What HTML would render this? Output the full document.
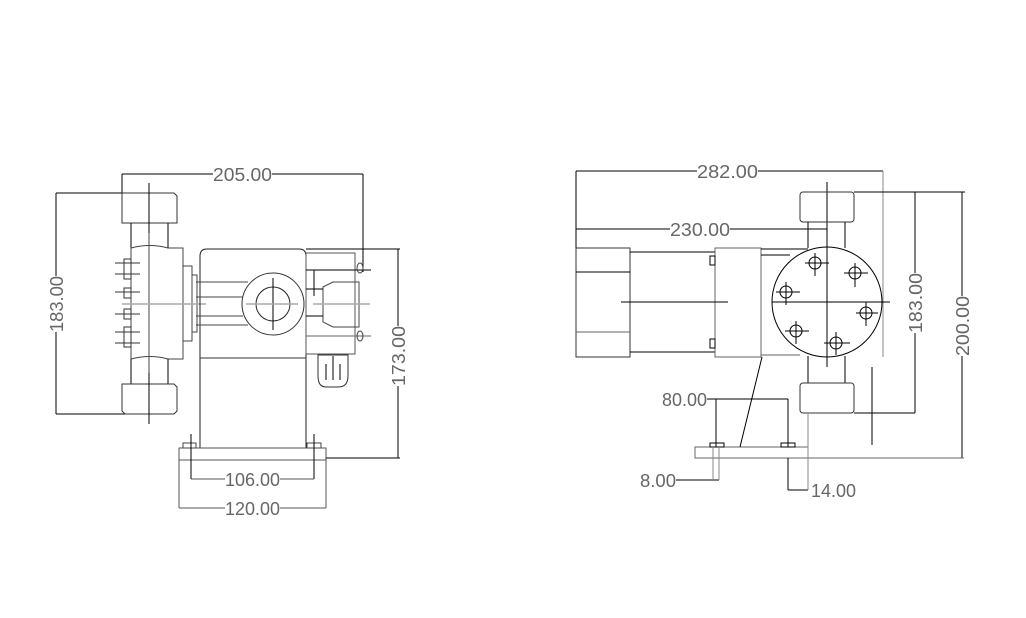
<!DOCTYPE html>
<html><head><meta charset="utf-8"><style>
html,body{margin:0;padding:0;background:#fff;}
svg{display:block}
text{font-family:"Liberation Sans",sans-serif;font-size:18px;fill:#666;}
</style></head><body>
<svg width="1026" height="618" viewBox="0 0 1026 618" xmlns="http://www.w3.org/2000/svg">
<g fill="none" stroke="#000" stroke-width="1">
<!-- LEFT VIEW -->
<!-- 205 dim -->
<line x1="122" y1="174" x2="213" y2="174"/><line x1="272" y1="174" x2="363" y2="174"/>
<line x1="122" y1="174" x2="122" y2="193"/>
<line x1="363" y1="174" x2="363" y2="272"/>
<!-- 183 dim -->
<line x1="56" y1="193" x2="56" y2="276"/><line x1="56" y1="332" x2="56" y2="414"/>
<line x1="56" y1="193" x2="122" y2="193"/><line x1="56" y1="414" x2="150" y2="414"/>
<!-- top fitting -->
<path d="M122 193 H174 L177 196 V223 H122 Z" stroke="#333"/>
<line x1="131" y1="223" x2="131" y2="248"/><line x1="168" y1="223" x2="168" y2="248"/>
<path d="M131 248 Q150 243 168 248 H183 V359 H168 Q150 354 131 359 Z" stroke="#444"/>
<line x1="131" y1="359" x2="131" y2="384"/><line x1="168" y1="359" x2="168" y2="384"/>
<path d="M122 384 H174 L177 387 V411 L174 414 H125 L122 411 Z" stroke="#333"/>
<line x1="149" y1="183" x2="149" y2="233"/><line x1="149" y1="373" x2="149" y2="424"/>
<line x1="149" y1="233" x2="149" y2="373" stroke="#444"/>
<rect x="183" y="266" width="9" height="75" stroke="#444"/>
<rect x="192" y="275" width="5" height="57" stroke="#444"/>
<line x1="122" y1="304" x2="206" y2="304" stroke="#aaa" stroke-width="1.5"/>
<!-- bolts -->
<g stroke="#333">
<rect x="124" y="259" width="7" height="20"/><line x1="115" y1="263" x2="140" y2="263"/><line x1="115" y1="274" x2="140" y2="274"/>
<rect x="124" y="288" width="7" height="10"/><line x1="115" y1="292" x2="140" y2="292"/>
<rect x="124" y="309" width="7" height="10"/><line x1="115" y1="314" x2="140" y2="314"/>
<rect x="124" y="327" width="7" height="20"/><line x1="115" y1="332" x2="140" y2="332"/><line x1="115" y1="343" x2="140" y2="343"/>
</g>
<!-- main body -->
<path d="M200 448 V256 Q200 249 207 249 H299 Q306 249 306 256 V448" stroke="#222"/>
<line x1="200" y1="358" x2="306" y2="358" stroke="#333"/>
<path d="M196 282 H248 M196 297 H243 M196 316 H243 M196 325 H248" stroke="#444"/>
<circle cx="273" cy="304" r="31" stroke="#333"/>
<circle cx="273" cy="304" r="17" stroke="#222"/>
<line x1="273" y1="278" x2="273" y2="330"/>
<line x1="246" y1="304" x2="298" y2="304" stroke="#aaa" stroke-width="1.5"/>
<!-- right box -->
<rect x="306" y="253" width="49" height="101" stroke="#555"/>
<path d="M323 287 L333 282 H359 V327 H333 L323 322 Z" stroke="#444"/>
<line x1="306" y1="270" x2="371" y2="270"/>
<line x1="314" y1="270" x2="314" y2="296"/><line x1="306" y1="289" x2="323" y2="289"/><line x1="306" y1="316" x2="323" y2="316"/>
<line x1="306" y1="336" x2="371" y2="336" stroke="#666"/>
<ellipse cx="360" cy="268" rx="3" ry="5" stroke="#444"/><ellipse cx="360" cy="336" rx="3" ry="5" stroke="#444"/>
<line x1="313" y1="304" x2="370" y2="304" stroke="#aaa" stroke-width="1.5"/>
<path d="M318 355 H348 V376 Q348 387 338 387 H326 Q318 387 318 376 Z" stroke="#333"/>
<line x1="326" y1="364" x2="326" y2="380"/><line x1="333" y1="356" x2="333" y2="380"/><line x1="340" y1="364" x2="340" y2="380"/>
<!-- base -->
<rect x="179" y="448" width="147" height="12" stroke="#555"/>
<rect x="183" y="443" width="13" height="5" stroke="#444"/><rect x="307" y="443" width="14" height="5" stroke="#444"/>
<line x1="191" y1="434" x2="191" y2="479"/><line x1="314" y1="434" x2="314" y2="479"/>
<line x1="191" y1="479" x2="225" y2="479" stroke="#555"/><line x1="280" y1="479" x2="314" y2="479" stroke="#555"/>
<line x1="179" y1="460" x2="179" y2="508" stroke="#555"/><line x1="326" y1="460" x2="326" y2="508" stroke="#555"/>
<line x1="179" y1="508" x2="225" y2="508" stroke="#555"/><line x1="280" y1="508" x2="326" y2="508" stroke="#555"/>
<!-- 173 dim -->
<line x1="306" y1="249" x2="400" y2="249"/><line x1="326" y1="458" x2="400" y2="458"/>
<line x1="398" y1="249" x2="398" y2="326"/><line x1="398" y1="386" x2="398" y2="458"/>

<!-- RIGHT VIEW -->
<line x1="576" y1="171" x2="697" y2="171"/><line x1="758" y1="171" x2="883" y2="171"/>
<line x1="576" y1="171" x2="576" y2="357"/><line x1="883" y1="171" x2="883" y2="357" stroke="#888"/>
<line x1="576" y1="229" x2="670" y2="229"/><line x1="730" y1="229" x2="827" y2="229"/>
<rect x="576" y="248" width="54" height="109" stroke="#333"/>
<line x1="576" y1="272" x2="630" y2="272"/><line x1="576" y1="332" x2="630" y2="332" stroke="#666"/>
<line x1="630" y1="252" x2="715" y2="252"/><line x1="630" y1="352" x2="715" y2="352"/>
<rect x="715" y="248" width="46" height="109" stroke="#666"/>
<rect x="710" y="256" width="5" height="9"/><rect x="710" y="339" width="5" height="9"/>
<line x1="761" y1="249" x2="808" y2="249"/><line x1="761" y1="255" x2="790" y2="255"/>
<line x1="761" y1="355" x2="800" y2="355" stroke="#666"/>
<line x1="621" y1="302" x2="728" y2="302"/><line x1="772" y1="302" x2="890" y2="302"/>
<circle cx="827" cy="302" r="55"/>
<line x1="827" y1="182" x2="827" y2="367"/>
<rect x="800" y="192" width="54" height="30" rx="3" stroke="#333"/>
<line x1="808" y1="222" x2="808" y2="248"/><line x1="845" y1="222" x2="845" y2="248"/>
<line x1="808" y1="356" x2="808" y2="383"/><line x1="845" y1="356" x2="845" y2="383"/>
<rect x="800" y="383" width="54" height="30" rx="3" stroke="#333"/>
<g>
<circle cx="815" cy="263" r="6"/><line x1="805" y1="263" x2="829" y2="263"/><line x1="815" y1="253" x2="815" y2="276"/>
<circle cx="855" cy="273" r="6"/><line x1="844" y1="273" x2="868" y2="273"/><line x1="855" y1="263" x2="855" y2="287"/>
<circle cx="786" cy="292" r="6"/><line x1="776" y1="292" x2="800" y2="292"/><line x1="786" y1="282" x2="786" y2="305"/>
<circle cx="866" cy="313" r="6"/><line x1="856" y1="313" x2="878" y2="313"/><line x1="866" y1="302" x2="866" y2="326"/>
<circle cx="796" cy="331" r="6"/><line x1="785" y1="331" x2="809" y2="331"/><line x1="796" y1="321" x2="796" y2="344"/>
<circle cx="836" cy="343" r="6"/><line x1="824" y1="343" x2="850" y2="343"/><line x1="836" y1="332" x2="836" y2="355"/>
</g>
<!-- 183 & 200 -->
<line x1="854" y1="192" x2="965" y2="192"/>
<line x1="915" y1="192" x2="915" y2="273"/><line x1="915" y1="333" x2="915" y2="413"/>
<line x1="854" y1="413" x2="915" y2="413"/>
<line x1="962" y1="192" x2="962" y2="296"/><line x1="962" y1="356" x2="962" y2="458"/>
<line x1="808" y1="458" x2="964" y2="458" stroke="#666"/>
<line x1="872" y1="367" x2="872" y2="445"/>
<!-- base -->
<rect x="695" y="447" width="113" height="11" stroke="#666"/>
<rect x="710" y="443" width="14" height="4"/><rect x="781" y="443" width="14" height="4"/>
<line x1="762" y1="357" x2="740" y2="447"/>
<line x1="707" y1="399" x2="788" y2="399"/>
<line x1="716" y1="399" x2="716" y2="447"/><line x1="788" y1="399" x2="788" y2="447"/>
<line x1="676" y1="480" x2="719" y2="480"/>
<line x1="713" y1="447" x2="713" y2="480" stroke="#888"/><line x1="719" y1="447" x2="719" y2="480" stroke="#888"/>
<line x1="788" y1="458" x2="788" y2="490"/><line x1="788" y1="490" x2="808" y2="490"/>
<line x1="808" y1="413" x2="808" y2="490" stroke="#888"/>
</g>
<g>
<text x="213" y="181" textLength="59" lengthAdjust="spacingAndGlyphs">205.00</text>
<text x="0" y="0" transform="translate(63,332) rotate(-90)" textLength="56" lengthAdjust="spacingAndGlyphs">183.00</text>
<text x="0" y="0" transform="translate(405,386) rotate(-90)" textLength="60" lengthAdjust="spacingAndGlyphs">173.00</text>
<text x="225" y="486" textLength="55" lengthAdjust="spacingAndGlyphs">106.00</text>
<text x="225" y="515" textLength="55" lengthAdjust="spacingAndGlyphs">120.00</text>
<text x="697" y="178" textLength="61" lengthAdjust="spacingAndGlyphs">282.00</text>
<text x="670" y="236" textLength="60" lengthAdjust="spacingAndGlyphs">230.00</text>
<text x="0" y="0" transform="translate(922,333) rotate(-90)" textLength="60" lengthAdjust="spacingAndGlyphs">183.00</text>
<text x="0" y="0" transform="translate(969,356) rotate(-90)" textLength="60" lengthAdjust="spacingAndGlyphs">200.00</text>
<text x="662" y="406" textLength="45" lengthAdjust="spacingAndGlyphs">80.00</text>
<text x="640" y="487" textLength="36" lengthAdjust="spacingAndGlyphs">8.00</text>
<text x="811" y="497" textLength="45" lengthAdjust="spacingAndGlyphs">14.00</text>
</g>
</svg>
</body></html>
